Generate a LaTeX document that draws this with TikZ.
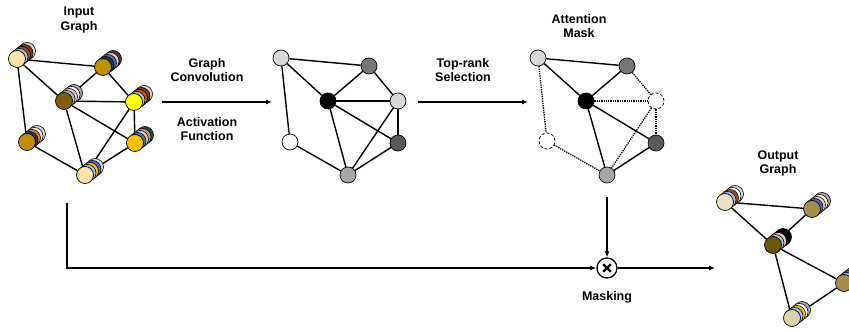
\documentclass[tikz,border=0pt]{standalone}
\usepackage{fontspec}
\setmainfont{Liberation Sans}
\usetikzlibrary{arrows.meta,backgrounds,positioning,calc}

\definecolor{beige}{HTML}{FDE3A7}
\definecolor{goldD}{HTML}{BF9000}
\definecolor{oliveD}{HTML}{7F6000}
\definecolor{yellowB}{HTML}{FFFF00}
\definecolor{amber}{HTML}{FFC000}
\definecolor{lblue}{HTML}{9DC3E6}
\definecolor{blueA}{HTML}{4472C4}
\definecolor{navy}{HTML}{1F3864}
\definecolor{peach}{HTML}{F8CBAD}
\definecolor{brownA}{HTML}{A0522D}
\definecolor{dbrown}{HTML}{843C0C}
\definecolor{orangeD}{HTML}{C55A11}
\definecolor{orangeA}{HTML}{ED7D31}
\definecolor{lgray}{HTML}{D9D9D9}
\definecolor{mgray}{HTML}{A6A6A6}
\definecolor{gray7}{HTML}{767676}
\definecolor{dgray}{HTML}{595959}
\definecolor{vdgray}{HTML}{404040}
\definecolor{cream}{HTML}{EDE2C4}
\definecolor{khaki}{HTML}{A38C4C}
\definecolor{oliveE}{HTML}{6B5710}
\definecolor{sand}{HTML}{DCD2AE}

\tikzset{
  vtx/.style={circle, draw, line width=0.7pt, minimum size=16pt, inner sep=0pt},
  disc/.style={draw, line width=0.6pt},
  edge/.style={line width=1.4pt},
  dotedge/.style={line width=1.3pt, densely dotted},
  flow/.style={line width=1.1pt, -{Latex[length=6pt,width=5pt]}},
  lbl/.style={font=\bfseries\fontsize{12.5}{14}\selectfont, align=center},
}

% stack of discs behind a front vertex: name, position, front colour, back colours (back to front)
\newcommand{\coinstack}[4]{%
  \foreach \col [count=\k] in {#4}
    \draw[disc, fill=\col] ($(#2)+({(5-\k)*2.5},{-(5-\k)*2})$) circle[radius=8.5pt];
  \node[vtx, minimum size=17pt, fill=#3] (#1) at (#2) {};
}

\begin{document}
\begin{tikzpicture}[x=1pt, y=-1pt]
\useasboundingbox (0,0) rectangle (849,331);

% input graph
\coinstack{n1}{17,59}{beige}{lgray,dbrown,brownA,lblue}
\coinstack{n2}{103,67}{goldD}{vdgray,peach,blueA,navy}
\coinstack{n3}{64,101}{oliveD}{mgray,white,peach,lblue}
\coinstack{n4}{134,102}{yellowB}{lgray,dbrown,orangeD,lblue}
\coinstack{n5}{27,142}{goldD}{lgray,white,orangeA,navy}
\coinstack{n6}{135,143}{amber}{vdgray,mgray,peach,blueA}
\coinstack{n7}{85,175}{beige}{lgray,blueA,amber,lblue}
\begin{scope}[on background layer]
  \foreach \a/\b in {n1/n2,n1/n3,n1/n5,n2/n3,n2/n4,n3/n4,n3/n6,n3/n7,n4/n6,n4/n7,n5/n7,n6/n7}
    \draw[edge] (\a) -- (\b);
\end{scope}

% convolved graph
\node[vtx, fill=lgray] (m1) at (281,58) {};
\node[vtx, fill=gray7] (m2) at (369,66) {};
\node[vtx, fill=black] (m3) at (328,101) {};
\node[vtx, fill=lgray] (m4) at (398,101) {};
\node[vtx, fill=white] (m5) at (290,142) {};
\node[vtx, fill=dgray] (m6) at (398,143) {};
\node[vtx, fill=mgray] (m7) at (348,175) {};
\foreach \a/\b in {m1/m2,m1/m3,m1/m5,m2/m3,m2/m4,m3/m4,m3/m6,m3/m7,m4/m6,m4/m7,m5/m7,m6/m7}
  \draw[edge] (\a) -- (\b);

% attention mask
\node[vtx, fill=lgray] (r1) at (538,58) {};
\node[vtx, fill=gray7] (r2) at (627,66) {};
\node[vtx, fill=black] (r3) at (586,101) {};
\node[vtx, fill=white, densely dashed] (r4) at (656,101) {};
\node[vtx, fill=white, densely dashed] (r5) at (547,141) {};
\node[vtx, fill=dgray] (r6) at (656,143) {};
\node[vtx, fill=mgray] (r7) at (607,175) {};
\foreach \a/\b in {r1/r2,r1/r3,r2/r3,r3/r6,r3/r7,r6/r7}
  \draw[edge] (\a) -- (\b);
\foreach \a/\b in {r1/r5,r2/r4,r3/r4,r4/r6,r4/r7,r5/r7}
  \draw[dotedge] (\a) -- (\b);

% output graph
\coinstack{o1}{725,202}{cream}{lgray,white,brownA,lblue}
\coinstack{o2}{812,209}{khaki}{mgray,white,peach,blueA}
\coinstack{o3}{773,245}{oliveE}{black,black,peach,lblue}
\coinstack{o4}{844,283}{khaki}{mgray,peach,blueA,lblue}
\coinstack{o5}{792,318}{sand}{mgray,white,amber,lblue}
\begin{scope}[on background layer]
  \foreach \a/\b in {o1/o2,o1/o3,o2/o3,o3/o4,o3/o5,o4/o5}
    \draw[edge] (\a) -- (\b);
\end{scope}

% labels
\node[lbl] (inlbl)   at (79,20)   {Input\\Graph};
\node[lbl] (convlbl) at (207,70)  {Graph\\Convolution};
\node[lbl] (actlbl)  at (207,129) {Activation\\Function};
\node[lbl] (toplbl)  at (463,70)  {Top-rank\\Selection};
\node[lbl] (attlbl)  at (579,26)  {Attention\\Mask};
\node[lbl] (outlbl)  at (778,163) {Output\\Graph};

% masking
\node[circle, draw, line width=1.3pt, minimum size=20pt, inner sep=0pt,
  path picture={
    \draw[line width=2.2pt]
      ([shift={(-3.8pt,-3.8pt)}]path picture bounding box.center) -- ([shift={(3.8pt,3.8pt)}]path picture bounding box.center)
      ([shift={(-3.8pt,3.8pt)}]path picture bounding box.center) -- ([shift={(3.8pt,-3.8pt)}]path picture bounding box.center);
  }] (mask) at (607,268) {};
\node[lbl] (masklbl) at (607,297) {Masking};

\coordinate (a1s) at (162,102);
\coordinate (a1e) at (272,102);
\coordinate (a2s) at (418,102);
\coordinate (a2e) at (528,102);
\coordinate (tap) at (67,203);
\coordinate (outend) at (715,268);

\draw[flow] (a1s) -- (a1e);
\draw[flow] (a2s) -- (a2e);
\draw[flow] ([yshift=-14pt]r7.south) -- (mask);
\draw[flow] (tap) |- (mask);
\draw[flow] (mask) -- (outend);
\end{tikzpicture}
\end{document}
